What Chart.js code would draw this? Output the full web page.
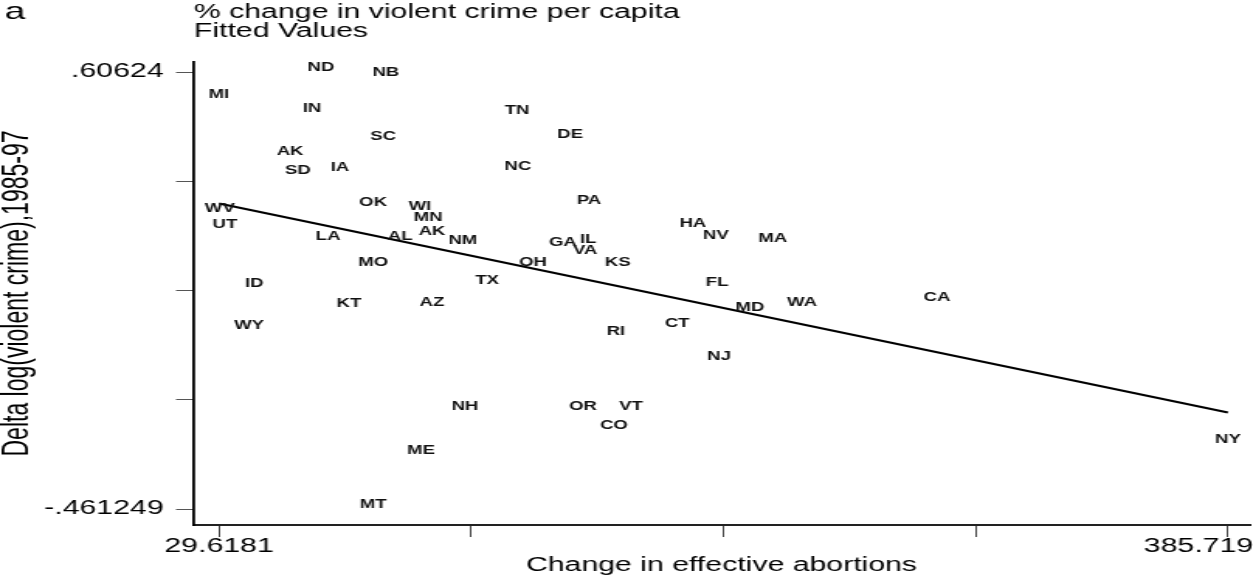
<!DOCTYPE html>
<html>
<head>
<meta charset="utf-8">
<title>Violent crime vs. effective abortions</title>
<script src="https://cdn.jsdelivr.net/npm/chart.js@4.4.1/dist/chart.umd.min.js"></script>
<style>
  html, body { margin: 0; padding: 0; background: #fff; overflow: hidden; }
  /* the graph is laid out on a narrow canvas and widened horizontally */
  #wrap { position: absolute; left: 0; top: 0; width: 808px; height: 575px;
          transform: scaleX(1.5507); transform-origin: 0 0; }
  canvas { display: block; }
</style>
</head>
<body>
<div id="wrap"><canvas id="c" width="808" height="575" style="width:808px;height:575px"></canvas></div>
<script>
// State codes used as point markers
const states = [
  'MI','ND','NB','IN','SC','AK','SD','IA','TN','DE','NC','PA','WV','UT','OK','LA','AL',
  'MO','ID','KT','WY','WI','MN','AK','NM','HA','NV','MA','GA','IL','VA','OH','KS','TX',
  'FL','AZ','MD','WA','CT','RI','NJ','CA','NH','OR','VT','CO','ME','MT','NY'
];
// Change in effective abortions (x)
const abortionChange = [
  29.62, 65.6, 88.5, 62.4, 87.5, 54.7, 57.5, 72.3, 134.8, 153.5, 135.1, 160.2, 29.9, 31.7, 84.0, 68.1, 93.5,
  84.0, 42.0, 75.5, 40.2, 100.5, 103.4, 104.8, 115.7, 196.9, 205.0, 225.1, 151.0, 159.9, 158.8, 140.4, 170.4, 124.2,
  205.4, 104.8, 217.0, 235.4, 191.3, 169.7, 206.1, 283.0, 116.4, 158.1, 175.0, 169.0, 100.9, 84.0, 385.719
];
// Delta log(violent crime), 1985-97 (y)
const crimeChange = [
  0.540, 0.60624, 0.596, 0.506, 0.438, 0.401, 0.355, 0.362, 0.501, 0.443, 0.364, 0.281, 0.262, 0.223, 0.277, 0.193, 0.193,
  0.130, 0.079, 0.030, -0.024, 0.267, 0.240, 0.206, 0.184, 0.225, 0.196, 0.189, 0.179, 0.186, 0.159, 0.130, 0.130, 0.086,
  0.081, 0.032, 0.020, 0.032, -0.019, -0.039, -0.100, 0.044, -0.222, -0.222, -0.222, -0.268, -0.329, -0.461249, -0.3025
];
// Fitted values at the ends of the x range
const fitX = [29.6181, 385.719];
const fitY = [0.2850, -0.2256];

const xTickValues = [29.6181, 118.6434, 207.6686, 296.6938, 385.719];
const xTickLabels = ['29.6181', '', '', '', '385.719       '];
const yTickValues = [0.60624, 0.339368, 0.072495, -0.194377, -0.461249];
const yTickLabels = ['.60624', '', '', '', '-.461249'];

const xTitle = 'Change in effective abortions';
const yTitle = 'Delta log(violent crime),1985-97';
const panelTag = 'a';
const headerLines = ['% change in violent crime per capita', 'Fitted Values'];

const FAMILY = '"Liberation Sans", Arial, Helvetica, sans-serif';

// Draws each state code centred on its point
const stateLabels = {
  id: 'stateLabels',
  afterDatasetsDraw(chart) {
    const meta = chart.getDatasetMeta(0);
    const ctx = chart.ctx;
    ctx.save();
    ctx.font = 'bold 12px ' + FAMILY;
    ctx.fillStyle = '#111';
    ctx.textAlign = 'center';
    ctx.textBaseline = 'middle';
    meta.data.forEach((pt, i) => ctx.fillText(states[i], pt.x, pt.y - 4));
    ctx.restore();
  }
};

// Panel letter and the key lines above the plot
const header = {
  id: 'header',
  afterDraw(chart) {
    const ctx = chart.ctx;
    ctx.save();
    ctx.fillStyle = '#000';
    ctx.textAlign = 'left';
    ctx.textBaseline = 'alphabetic';
    ctx.font = '24px ' + FAMILY;
    ctx.fillText(panelTag, 3, 18.5);
    ctx.font = '19.5px ' + FAMILY;
    ctx.fillText(headerLines[0], chart.chartArea.left + 0.5, 18);
    ctx.fillText(headerLines[1], chart.chartArea.left + 0.5, 37);
    ctx.restore();
  }
};

new Chart(document.getElementById('c'), {
  type: 'scatter',
  data: {
    datasets: [
      {
        label: 'States',
        data: abortionChange.map((x, i) => ({ x, y: crimeChange[i] })),
        pointRadius: 0,
        pointHoverRadius: 0
      },
      {
        label: 'Fitted Values',
        data: fitX.map((x, i) => ({ x, y: fitY[i] })),
        showLine: true,
        borderColor: '#000',
        borderWidth: 2,
        pointRadius: 0,
        fill: false
      }
    ]
  },
  options: {
    responsive: false,
    animation: false,
    devicePixelRatio: 1,
    layout: { padding: { left: 0, right: 2, top: 62, bottom: 0 } },
    plugins: { legend: { display: false }, tooltip: { enabled: false } },
    scales: {
      x: {
        type: 'linear',
        position: 'bottom',
        min: 20.442,
        max: 393.48,
        afterBuildTicks: s => { s.ticks = xTickValues.map(v => ({ value: v })); },
        afterFit: s => { s.height = 50; s.paddingLeft = 0; s.paddingRight = 0; },
        ticks: {
          autoSkip: false, maxRotation: 0, minRotation: 0, padding: 0, color: '#000',
          font: { family: FAMILY, size: 19.5, lineHeight: 1 },
          callback: (v, i) => xTickLabels[i]
        },
        grid: { drawOnChartArea: false, drawTicks: true, tickLength: 12, tickColor: '#444', tickWidth: 1 },
        border: { display: true, color: '#222', width: 2 },
        title: {
          display: true, text: xTitle, color: '#000', padding: 0,
          font: { family: FAMILY, size: 19.5, lineHeight: 1 }
        }
      },
      y: {
        type: 'linear',
        min: -0.50033,
        max: 0.63067,
        afterBuildTicks: s => { s.ticks = yTickValues.map(v => ({ value: v })); },
        afterFit: s => { s.width = 124.5; s.paddingTop = 0; s.paddingBottom = 0; },
        ticks: {
          autoSkip: false, padding: 8, color: '#000',
          font: { family: FAMILY, size: 19.5, lineHeight: 1 },
          callback: (v, i) => yTickLabels[i]
        },
        grid: { drawOnChartArea: false, drawTicks: true, tickLength: 11, tickColor: '#555', tickWidth: 1 },
        border: { display: true, color: '#000', width: 1.8 },
        title: {
          display: true, text: yTitle, color: '#000', padding: 0,
          font: { family: FAMILY, size: 23, lineHeight: 1 }
        }
      }
    }
  },
  plugins: [stateLabels, header]
});
</script>
</body>
</html>
